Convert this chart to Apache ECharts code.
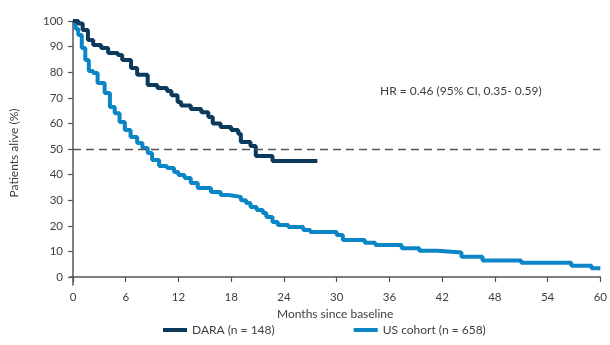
<!DOCTYPE html>
<html>
<head>
<meta charset="utf-8">
<script src="https://cdn.jsdelivr.net/npm/echarts@6/dist/echarts.min.js"></script>
<style>html,body{margin:0;padding:0;background:#fff;}#chart{width:610px;height:345px;}</style>
</head>
<body>
<div id="chart"></div>
<script>
// ---- data (months since baseline, % alive) ----
const daraMonths = [0, 0.6, 1.1, 1.7, 2.3, 3.2, 4.0, 5.1, 5.6, 6.6, 7.3, 8.5, 9.6, 10.7, 11.2, 11.9, 12.3, 13.4, 14.6, 15.4, 15.9, 16.8, 18.0, 18.8, 19.1, 20.2, 20.8, 22.7, 27.8];
const daraSurv   = [100, 99, 96.5, 92.6, 90.6, 89.5, 87.5, 86.7, 84.8, 81.6, 79, 75, 73.8, 72.7, 71, 68.4, 67, 65.6, 64.4, 62.5, 60, 58.6, 57.4, 56, 52.7, 51.2, 47.3, 45.3, 45.3];

const usMonths = [0, 0.3, 0.6, 1.0, 1.4, 1.8, 2.3, 2.8, 3.6, 4.2, 4.75, 5.3, 5.9, 6.55, 7.3, 7.9, 8.5, 9.0, 9.8, 10.7, 11.5, 12.0, 12.7, 13.4, 14.2, 15.7, 16.8, 17.7, 19.1, 19.7, 20.2, 20.9, 21.6, 22.0, 22.7, 23.3, 24.5, 26.2, 27.0, 30.0, 30.7, 33.2, 34.4, 37.4, 39.4, 41.5, 44.2, 46.6, 51.0, 56.7, 59.0, 60];
const usSurv   = [100, 97, 94.5, 89.5, 84.8, 80.5, 79.7, 75.8, 71.9, 66.4, 64, 60.5, 57.4, 54.7, 52.3, 50.4, 48.4, 45.7, 43.4, 42.6, 41, 39.8, 38.7, 36.7, 34.8, 33.2, 32, 31.3, 30, 28.9, 27.3, 26.2, 25, 23.4, 21.5, 20.3, 19.5, 18.4, 17.6, 16.4, 14.5, 13.4, 12.5, 11.2, 10.3, 9.6, 7.9, 6.4, 5.6, 4.4, 3.4, 3.4];

const seriesNames = ['DARA (n = 148)', 'US cohort (n = 658)'];
const xTicks = [0, 6, 12, 18, 24, 30, 36, 42, 48, 54, 60];
const yTicks = [0, 10, 20, 30, 40, 50, 60, 70, 80, 90, 100];
const referenceLevel = [50];
const hrText = 'HR = 0.46 (95% CI, 0.35- 0.59)';
const xTitle = 'Months since baseline';
const yTitle = 'Patients alive (%)';

const zip = (a, b) => a.map((v, i) => [v, b[i]]);

const font = 'Lato';
const textCol = '#3d3d45';
const axisCol = '#555';

const chart = echarts.init(document.getElementById('chart'), null, {renderer: 'canvas'});
chart.setOption({
  animation: false,
  backgroundColor: '#fff',
  textStyle: {fontFamily: font},
  grid: {left: 68, right: 8, top: 21, bottom: 60, containLabel: false},
  xAxis: {
    type: 'value', min: -0.34, max: 60,
    name: xTitle, nameLocation: 'middle', nameGap: 13,
    nameTextStyle: {fontFamily: font, fontSize: 12, color: textCol},
    axisLine: {lineStyle: {color: axisCol, width: 1.5}},
    axisTick: {customValues: xTicks, length: 5, lineStyle: {color: axisCol, width: 1.2}},
    axisLabel: {customValues: xTicks, margin: 6, fontSize: 11.5, color: textCol, fontFamily: font},
    splitLine: {show: false}
  },
  yAxis: {
    type: 'value', min: -3.125, max: 100,
    name: yTitle, nameLocation: 'middle', nameGap: 50, nameRotate: 90,
    nameTextStyle: {fontFamily: font, fontSize: 12, color: textCol},
    axisLine: {show: true, lineStyle: {color: axisCol, width: 1.5}},
    axisTick: {show: true, customValues: yTicks, length: 5, lineStyle: {color: axisCol, width: 1.2}},
    axisLabel: {customValues: yTicks, margin: 7, fontSize: 11.5, color: textCol, fontFamily: font},
    splitLine: {show: false}
  },
  legend: {
    data: seriesNames,
    bottom: 9, left: 163, padding: 0,
    itemWidth: 24, itemHeight: 4, itemGap: 79, icon: 'rect',
    textStyle: {fontFamily: font, fontSize: 12, color: textCol}
  },
  graphic: [{
    type: 'text', left: 380, top: 85,
    style: {text: hrText, fontFamily: font, fontSize: 12, fill: textCol}
  }],
  series: [
    {
      name: seriesNames[0], type: 'line', step: 'end', symbol: 'none',
      data: zip(daraMonths, daraSurv),
      lineStyle: {color: '#0b3a5d', width: 4}, itemStyle: {color: '#0b3a5d'},
      z: 3,
      markLine: {
        silent: true, symbol: 'none', label: {show: false},
        lineStyle: {color: '#555', type: [8, 5], width: 1.3},
        data: [[{coord: [0, referenceLevel[0]]}, {coord: [60, referenceLevel[0]]}]]
      }
    },
    {
      name: seriesNames[1], type: 'line', step: 'end', symbol: 'none',
      data: zip(usMonths, usSurv),
      lineStyle: {color: '#0a85c6', width: 4}, itemStyle: {color: '#0a85c6'},
      z: 2
    }
  ]
});
</script>
</body>
</html>
